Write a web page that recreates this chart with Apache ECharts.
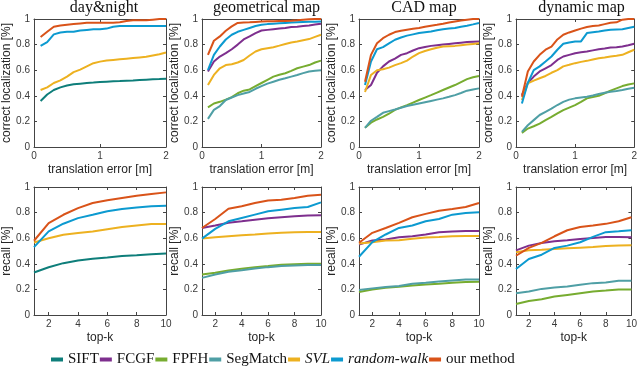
<!DOCTYPE html>
<html>
<head>
<meta charset="utf-8">
<script src="https://cdn.jsdelivr.net/npm/echarts@6/dist/echarts.min.js"></script>
<style>
  html, body { margin: 0; padding: 0; background: #fff; }
  #chart { width: 640px; height: 367px; }
</style>
</head>
<body>
<div id="chart"></div>
<script>
// x values
var tErr = [0.1,0.2,0.3,0.4,0.5,0.6,0.7,0.8,0.9,1.0,1.1,1.2,1.3,1.4,1.5,1.6,1.7,1.8,1.9,2.0];
var topK = [1,2,3,4,5,6,7,8,9,10];
var kTicks = [2,4,6,8,10];

var methods = ['SIFT','FCGF','FPFH','SegMatch','SVL','random-walk','our method'];
var titles = ['day&night','geometrical map','CAD map','dynamic map'];

// top row: correct localization vs translation error
var dnSift = [.36,.41,.445,.466,.48,.49,.495,.50,.503,.507,.51,.513,.515,.518,.52,.523,.526,.529,.531,.534];
var dnSvl  = [.445,.466,.50,.52,.55,.585,.605,.63,.655,.667,.675,.68,.685,.69,.695,.70,.705,.715,.725,.738];
var dnRw   = [.79,.82,.88,.895,.90,.90,.91,.915,.92,.92,.925,.94,.945,.945,.945,.945,.945,.945,.945,.945];
var dnOur  = [.86,.90,.94,.95,.955,.96,.965,.97,.97,.97,.97,.97,.975,.985,.99,.99,.99,.995,1.0,1.0];

var geoFcgf = [.59,.668,.707,.733,.764,.80,.84,.864,.89,.91,.915,.92,.925,.93,.937,.94,.945,.95,.957,.963];
var geoFpfh = [.31,.34,.353,.37,.39,.42,.44,.45,.475,.50,.525,.55,.565,.576,.595,.615,.628,.64,.66,.675];
var geoSeg  = [.22,.29,.32,.367,.387,.405,.418,.43,.455,.476,.495,.51,.525,.537,.55,.563,.577,.59,.595,.60];
var geoSvl  = [.484,.563,.615,.64,.647,.66,.68,.715,.746,.764,.772,.78,.792,.805,.817,.825,.834,.843,.86,.877];
var geoRw   = [.60,.72,.785,.84,.877,.90,.915,.93,.945,.955,.96,.963,.966,.969,.972,.975,.977,.978,.979,.98];
var geoOur  = [.72,.83,.864,.908,.942,.969,.972,.974,.977,.98,.982,.983,.984,.985,.987,.99,.995,.998,1.0,1.0];

var cadFcgf = [.445,.484,.58,.63,.668,.69,.72,.733,.754,.772,.782,.79,.795,.80,.805,.81,.815,.82,.823,.825];
var cadFpfh = [.15,.19,.215,.235,.26,.29,.31,.327,.347,.367,.386,.405,.425,.445,.465,.484,.507,.53,.545,.555];
var cadSeg  = [.15,.205,.235,.267,.28,.293,.307,.32,.33,.34,.35,.36,.37,.38,.392,.405,.422,.44,.45,.458];
var cadSvl  = [.43,.563,.60,.607,.62,.64,.655,.675,.707,.733,.75,.764,.775,.785,.788,.79,.795,.80,.805,.81];
var cadRw   = [.484,.668,.764,.78,.81,.838,.855,.87,.88,.89,.897,.903,.912,.92,.925,.93,.94,.948,.958,.969];
var cadOur  = [.51,.72,.81,.85,.877,.898,.908,.916,.923,.93,.94,.948,.955,.963,.972,.98,.988,.995,1.0,1.0];

var dynFcgf = [.406,.50,.55,.59,.615,.64,.68,.707,.72,.733,.74,.746,.755,.764,.77,.777,.78,.785,.795,.806];
var dynFpfh = [.11,.144,.162,.183,.21,.235,.262,.288,.308,.327,.352,.38,.39,.40,.42,.44,.458,.476,.488,.497];
var dynSeg  = [.118,.17,.21,.25,.275,.30,.328,.353,.37,.38,.387,.393,.403,.414,.423,.432,.438,.445,.455,.463];
var dynSvl  = [.366,.497,.518,.537,.555,.58,.60,.63,.642,.655,.665,.673,.684,.694,.70,.707,.713,.72,.74,.76];
var dynRw   = [.34,.50,.60,.63,.668,.707,.76,.806,.817,.825,.825,.89,.897,.903,.91,.916,.918,.92,.93,.94];
var dynOur  = [.393,.59,.668,.72,.76,.785,.84,.877,.895,.91,.925,.937,.945,.95,.96,.97,.974,.995,1.0,1.0];

// bottom row: recall vs top-k
var rDnSift = [.332,.373,.405,.426,.439,.449,.46,.467,.475,.48];
var rDnSvl  = [.567,.60,.627,.64,.653,.67,.687,.70,.71,.71];
var rDnRw   = [.53,.653,.713,.757,.783,.81,.828,.84,.849,.854];
var rDnOur  = [.58,.718,.783,.835,.875,.896,.914,.932,.945,.958];

var rGeoFcgf = [.68,.699,.72,.732,.745,.756,.764,.771,.777,.78];
var rGeoFpfh = [.317,.33,.348,.361,.374,.382,.392,.397,.40,.40];
var rGeoSeg  = [.29,.317,.338,.35,.364,.374,.382,.387,.39,.39];
var rGeoSvl  = [.597,.608,.616,.623,.629,.636,.642,.647,.649,.649];
var rGeoRw   = [.597,.673,.732,.758,.784,.81,.823,.836,.844,.88];
var rGeoOur  = [.68,.75,.83,.85,.875,.894,.90,.914,.932,.94];

var rCadFcgf = [.55,.582,.59,.608,.616,.629,.647,.652,.657,.657];
var rCadFpfh = [.18,.20,.213,.22,.231,.239,.244,.252,.257,.26];
var rCadSeg  = [.195,.208,.218,.226,.244,.252,.262,.27,.278,.278];
var rCadSvl  = [.558,.569,.582,.584,.595,.605,.61,.616,.618,.618];
var rCadRw   = [.455,.569,.629,.68,.699,.732,.75,.784,.797,.803];
var rCadOur  = [.564,.642,.68,.72,.764,.79,.815,.829,.844,.875];

var rDynFcgf = [.505,.542,.563,.576,.584,.594,.602,.61,.61,.607];
var rDynFpfh = [.086,.11,.123,.144,.157,.17,.183,.191,.20,.20];
var rDynSeg  = [.17,.183,.204,.215,.223,.236,.249,.254,.267,.267];
var rDynSvl  = [.49,.505,.51,.516,.521,.526,.531,.539,.542,.545];
var rDynRw   = [.359,.437,.471,.524,.542,.568,.61,.647,.654,.662];
var rDynOur  = [.463,.524,.563,.615,.662,.688,.699,.712,.733,.764];

var colors = {
  'SIFT': '#0E7E7A',
  'FCGF': '#7E2F8E',
  'FPFH': '#77AC30',
  'SegMatch': '#4F9FA5',
  'SVL': '#EDB120',
  'random-walk': '#0C9AD0',
  'our method': '#D95319'
};

var panelData = [
  {SIFT: dnSift, SVL: dnSvl, 'random-walk': dnRw, 'our method': dnOur},
  {FCGF: geoFcgf, FPFH: geoFpfh, SegMatch: geoSeg, SVL: geoSvl, 'random-walk': geoRw, 'our method': geoOur},
  {FCGF: cadFcgf, FPFH: cadFpfh, SegMatch: cadSeg, SVL: cadSvl, 'random-walk': cadRw, 'our method': cadOur},
  {FCGF: dynFcgf, FPFH: dynFpfh, SegMatch: dynSeg, SVL: dynSvl, 'random-walk': dynRw, 'our method': dynOur},
  {SIFT: rDnSift, SVL: rDnSvl, 'random-walk': rDnRw, 'our method': rDnOur},
  {FCGF: rGeoFcgf, FPFH: rGeoFpfh, SegMatch: rGeoSeg, SVL: rGeoSvl, 'random-walk': rGeoRw, 'our method': rGeoOur},
  {FCGF: rCadFcgf, FPFH: rCadFpfh, SegMatch: rCadSeg, SVL: rCadSvl, 'random-walk': rCadRw, 'our method': rCadOur},
  {FCGF: rDynFcgf, FPFH: rDynFpfh, SegMatch: rDynSeg, SVL: rDynSvl, 'random-walk': rDynRw, 'our method': rDynOur}
];

// plot boxes [left, width] per column, tops per row
var cols = [[32, 134], [202, 119], [359, 120], [516, 121]];
var rows = [19, 187];
var boxH = 128;

var sans = 'Liberation Sans';
var serif = 'Liberation Serif';
var lineCol = '#444';
var labCol = '#3a3a3a';

var grids = [], xAxes = [], yAxes = [], series = [], titleList = [];

for (var p = 0; p < 8; p++) {
  var r = p < 4 ? 0 : 1;
  var c = p % 4;
  var bottomRow = r === 1;
  grids.push({left: cols[c][0], top: rows[r], width: cols[c][1], height: boxH});

  var xBase = {
    type: 'value', gridIndex: p,
    min: bottomRow ? 1 : 0, max: bottomRow ? 10 : 2,
    splitLine: {show: false},
    axisLine: {show: true, onZero: false, lineStyle: {color: lineCol, width: 1}},
    axisTick: {show: true, inside: true, length: 3, lineStyle: {color: lineCol}},
    axisLabel: {show: true, color: labCol, fontFamily: sans, fontSize: 10, margin: 4}
  };
  if (bottomRow) {
    xBase.axisTick.customValues = kTicks;
    xBase.axisLabel.customValues = kTicks;
  } else {
    xBase.interval = 1;
  }
  var xb = echarts.util.merge({}, xBase, true);
  xb.position = 'bottom';
  xb.name = bottomRow ? 'top-k' : 'translation error [m]';
  xb.nameLocation = 'middle';
  xb.nameGap = 17;
  xb.nameTextStyle = {fontFamily: sans, fontSize: 12, color: '#262626'};
  var xt = echarts.util.merge({}, xBase, true);
  xt.position = 'top';
  xt.axisLabel = {show: false};
  if (bottomRow) xt.axisLabel.customValues = kTicks;
  xAxes.push(xb, xt);

  var yBase = {
    type: 'value', gridIndex: p, min: 0, max: 1, interval: 0.2,
    splitLine: {show: false},
    axisLine: {show: true, onZero: false, lineStyle: {color: lineCol, width: 1}},
    axisTick: {show: true, inside: true, length: 3, lineStyle: {color: lineCol}},
    axisLabel: {show: true, color: labCol, fontFamily: sans, fontSize: 10, margin: 4}
  };
  var yl = echarts.util.merge({}, yBase, true);
  yl.position = 'left';
  yl.name = bottomRow ? 'recall [%]' : 'correct localization [%]';
  yl.nameLocation = 'middle';
  yl.nameGap = 21;
  yl.nameMoveOverlap = false;
  yl.nameTextStyle = {fontFamily: sans, fontSize: 12, color: '#262626'};
  var yr = echarts.util.merge({}, yBase, true);
  yr.position = 'right';
  yr.axisLabel = {show: false};
  yAxes.push(yl, yr);

  if (!bottomRow) {
    titleList.push({
      text: titles[c],
      left: cols[c][0] + cols[c][1] / 2,
      top: -5,
      textAlign: 'center',
      textStyle: {fontFamily: serif, fontSize: 16, fontWeight: 'normal', color: '#111'}
    });
  }

  var xs = bottomRow ? topK : tErr;
  methods.forEach(function (m) {
    var vals = panelData[p][m];
    if (!vals) return;
    series.push({
      name: m, type: 'line',
      xAxisIndex: 2 * p, yAxisIndex: 2 * p,
      data: xs.map(function (x, i) { return [x, vals[i]]; }),
      showSymbol: false, symbol: 'none',
      lineStyle: {width: 2, color: colors[m]},
      itemStyle: {color: colors[m]},
      silent: true
    });
  });
}

var chart = echarts.init(document.getElementById('chart'), null, {renderer: 'canvas'});
chart.setOption({
  animation: false,
  backgroundColor: '#fff',
  title: titleList,
  grid: grids,
  xAxis: xAxes,
  yAxis: yAxes,
  legend: {
    data: methods,
    left: 46, top: 347,
    icon: 'rect', itemWidth: 12, itemHeight: 4, itemGap: 1,
    textStyle: {
      fontFamily: serif, fontSize: 15, color: '#111',
      rich: {i: {fontFamily: serif, fontSize: 15, fontStyle: 'italic', color: '#111'}}
    },
    formatter: function (name) {
      return (name === 'SVL' || name === 'random-walk') ? '{i|' + name + '}' : name;
    }
  },
  series: series
});
</script>
</body>
</html>
